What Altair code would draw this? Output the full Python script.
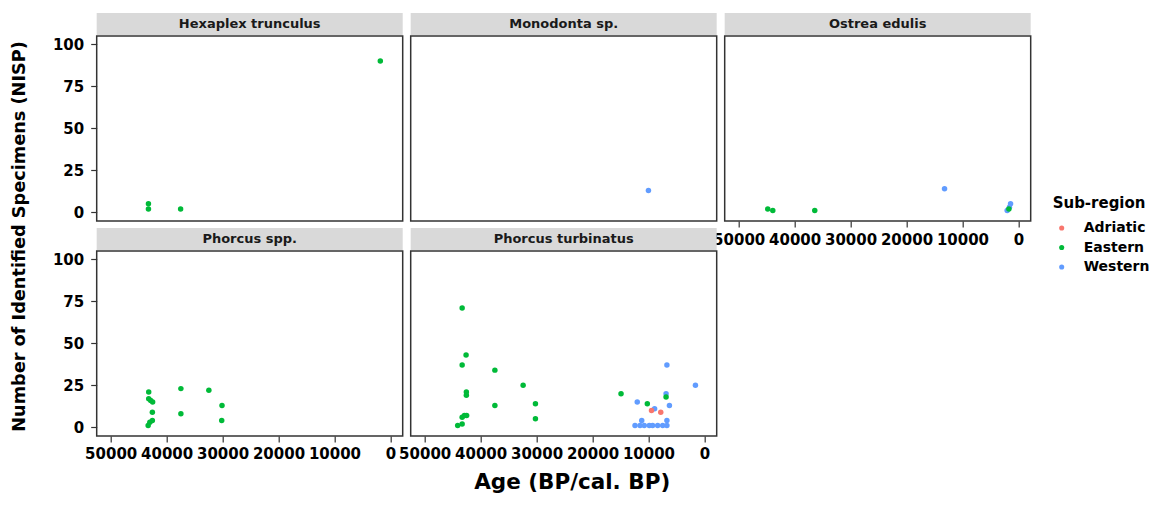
import altair as alt
import pandas as pd

FONT = "DejaVu Sans"
REGIONS = ["Adriatic", "Eastern", "Western"]
COLORS = ["#F8766D", "#00BA38", "#619CFF"]
X_TICKS = [0, 10000, 20000, 30000, 40000, 50000]
Y_TICKS = [0, 25, 50, 75, 100]

# Hexaplex trunculus
hex_age = [1800, 43250, 43250, 37500]
hex_nisp = [90, 5, 2, 2]
hex_region = ["Eastern", "Eastern", "Eastern", "Eastern"]

# Monodonta sp.
mono_age = [10000]
mono_nisp = [13]
mono_region = ["Western"]

# Ostrea edulis
ost_age = [44800, 43900, 36400, 13200, 1400, 2000, 1600, 1700]
ost_nisp = [2, 1, 1, 14, 5, 1, 3, 2]
ost_region = ["Eastern", "Eastern", "Eastern", "Western", "Western", "Western", "Western", "Eastern"]

# Phorcus spp.
pspp_age = [43200, 37450, 32450, 43200, 42850, 42500, 30100, 42550, 37450, 42550, 43000, 43300, 30150]
pspp_nisp = [21, 23, 22, 17, 16, 15, 13, 9, 8, 4, 3, 1, 4]
pspp_region = ["Eastern"] * 13

# Phorcus turbinatus
ptur_age = [6700, 1600, 6850, 12000, 6250, 8900, 11200, 6700,
            12400, 11500, 10750, 9850, 9250, 8350, 7450, 6700,
            43300, 42600, 43300, 37450, 32400, 42550, 42550, 37450, 30200, 30200,
            43300, 42900, 42500, 43300, 44100, 14900, 10200, 6850,
            9450, 7800]
ptur_nisp = [37, 25, 20, 15, 13, 11, 4, 4,
             1, 1, 1, 1, 1, 1, 1, 1,
             71, 43, 37, 34, 25, 21, 19, 13, 14, 5,
             6, 7, 7, 2, 1, 20, 14, 18,
             10, 9]
ptur_region = (["Western"] * 16) + (["Eastern"] * 18) + (["Adriatic"] * 2)

W, H = 306, 185
STRIP_H = 22


def panel(name, ages, nisp, regions, show_x, show_y, x_title=None, y_title=None):
    df = pd.DataFrame({"age": ages, "nisp": nisp, "region": regions})
    if show_x:
        xkw = dict(values=X_TICKS, format="d", labelOverlap=False, labelPadding=5)
        if x_title:
            xkw.update(title=x_title, titleX=161, titleY=53, titleAlign="center",
                       titleBaseline="alphabetic", titleFontSize=21.5)
        else:
            xkw.update(title=None)
        x_axis = alt.Axis(**xkw)
    else:
        x_axis = None
    if show_y:
        ykw = dict(values=Y_TICKS, format="d", labelPadding=7)
        if y_title:
            ykw.update(title=y_title, titleX=-72, titleY=200, titleAngle=270,
                       titleAlign="center", titleBaseline="alphabetic", titleFontSize=17.7)
        else:
            ykw.update(title=None)
        y_axis = alt.Axis(**ykw)
    else:
        y_axis = None

    pts = alt.Chart(df).mark_circle(size=30, opacity=1).encode(
        x=alt.X("age:Q", scale=alt.Scale(domain=[-2200, 52500], reverse=True, nice=False, zero=False),
                axis=x_axis),
        y=alt.Y("nisp:Q", scale=alt.Scale(domain=[-5.2, 104.9], nice=False, zero=False), axis=y_axis),
        color=alt.Color("region:N", scale=alt.Scale(domain=REGIONS, range=COLORS),
                        legend=alt.Legend(title="Sub-region", orient="none", legendX=956, legendY=160,
                                          symbolSize=26, symbolStrokeWidth=0, symbolOffset=2,
                                          labelOffset=15, rowPadding=5.5, titlePadding=10, padding=0)),
    )
    sdf = pd.DataFrame({"label": [name]})
    strip = alt.Chart(sdf).mark_rect(color="#d9d9d9").encode(
        x=alt.value(0), x2=alt.value(W), y=alt.value(-STRIP_H - 1), y2=alt.value(-1))
    txt = alt.Chart(sdf).mark_text(font=FONT, fontSize=13, fontWeight="bold", color="#1a1a1a",
                                   baseline="middle", align="center").encode(
        x=alt.value(W / 2), y=alt.value(-12), text="label:N")
    return alt.layer(strip, txt, pts).properties(width=W, height=H)


p1 = panel("Hexaplex trunculus", hex_age, hex_nisp, hex_region, False, True,
           y_title="Number of Identified Specimens (NISP)")
p2 = panel("Monodonta sp.", mono_age, mono_nisp, mono_region, False, False)
p3 = panel("Ostrea edulis", ost_age, ost_nisp, ost_region, True, False)
p4 = panel("Phorcus spp.", pspp_age, pspp_nisp, pspp_region, True, True)
p5 = panel("Phorcus turbinatus", ptur_age, ptur_nisp, ptur_region, True, False,
           x_title="Age (BP/cal. BP)")

chart = alt.concat(p1, p2, p3, p4, p5, columns=3, spacing={"row": 30, "column": 8},
                   bounds="flush").properties(
    padding={"left": 1.7, "top": 4, "right": 0, "bottom": 0},
    background="white",
).configure(font=FONT).configure_view(
    stroke="#333333", strokeWidth=1.5
).configure_axis(
    grid=False, domain=False, tickColor="#333333", tickSize=6, tickWidth=1.2,
    labelFont=FONT, labelFontSize=15, labelFontWeight="bold", labelColor="black",
    titleFont=FONT, titleFontWeight="bold", titleColor="black",
).configure_legend(
    titleFont=FONT, titleFontSize=15, titleFontWeight="bold", titleColor="black",
    labelFont=FONT, labelFontSize=14, labelFontWeight="bold", labelColor="black",
)

chart.save("out.html", embed_options={"renderer": "svg", "actions": False})
